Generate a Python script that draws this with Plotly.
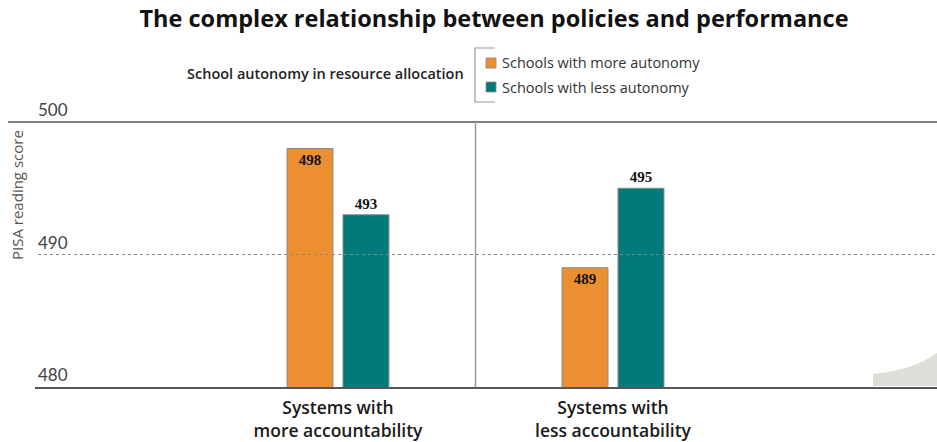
import plotly.graph_objects as go

categories = ["Systems with<br>more accountability", "Systems with<br>less accountability"]
series_names = ["Schools with more autonomy", "Schools with less autonomy"]
more_autonomy = [498, 489]
less_autonomy = [493, 495]
y_ticks = [480, 490, 500]
legend_title = "School autonomy in resource allocation"
title = "The complex relationship between policies and performance"
y_title = "PISA reading score"

ORANGE = "#EC8F30"
TEAL = "#007A7A"
W, H = 937, 442
ML, MR, MT, MB = 35, 0, 106, 55
PW, PH = W - ML - MR, H - MT - MB
PX_PER_UNIT = 13.25
Y_TOP = y_ticks[0] + PH / PX_PER_UNIT

def px_x(p):
    return (p - ML) / PW

def px_y(p):
    return (H - MB - p) / PH

def val_y(v):
    return (v - y_ticks[0]) / (Y_TOP - y_ticks[0])

bar_font = dict(family="Liberation Serif", size=15, color="#111111", weight="bold")

fig = go.Figure()
fig.add_trace(go.Bar(
    x=categories, y=more_autonomy, name=series_names[0],
    marker=dict(color=ORANGE, line=dict(color="#8a8a8a", width=1)),
    text=[str(v) for v in more_autonomy], textposition="inside", insidetextanchor="end",
    textfont=bar_font, constraintext="none", showlegend=False, hoverinfo="x+y",
))
fig.add_trace(go.Bar(
    x=categories, y=less_autonomy, name=series_names[1],
    marker=dict(color=TEAL, line=dict(color="#8a8a8a", width=1)),
    text=[str(v) for v in less_autonomy], textposition="outside",
    textfont=bar_font, constraintext="none", cliponaxis=False, showlegend=False, hoverinfo="x+y",
))

shapes = [
    # top reference line at 500
    dict(type="line", xref="paper", yref="paper", x0=px_x(8), x1=1,
         y0=val_y(y_ticks[2]), y1=val_y(y_ticks[2]),
         line=dict(color="#555555", width=1.6)),
    # dashed line at 490
    dict(type="line", xref="paper", yref="y", x0=px_x(38), x1=1, y0=y_ticks[1], y1=y_ticks[1],
         line=dict(color="#888888", width=1, dash="3px,3px")),
    # separator between groups
    dict(type="line", xref="x", yref="y", x0=0.5, x1=0.5, y0=y_ticks[0], y1=y_ticks[2],
         line=dict(color="#9a9a9a", width=1.5)),
    # legend bracket
    dict(type="path", xref="paper", yref="paper",
         path=f"M {px_x(495)} {px_y(48)} L {px_x(475)} {px_y(48)} L {px_x(475)} {px_y(102)} L {px_x(495)} {px_y(102)}",
         line=dict(color="#9a9a9a", width=1.2)),
    # legend swatches
    dict(type="rect", xref="paper", yref="paper", x0=px_x(486), x1=px_x(496), y0=px_y(68), y1=px_y(58),
         fillcolor=ORANGE, line=dict(color="#8a8a8a", width=0.8)),
    dict(type="rect", xref="paper", yref="paper", x0=px_x(486), x1=px_x(496), y0=px_y(92), y1=px_y(82),
         fillcolor=TEAL, line=dict(color="#8a8a8a", width=0.8)),
    # page curl decoration
    dict(type="path", xref="paper", yref="paper", layer="below",
         path=f"M {px_x(873)} {px_y(386)} L {px_x(873)} {px_y(374)} Q {px_x(915)} {px_y(370)} {px_x(938)} {px_y(352)} L {px_x(938)} {px_y(386)} Z",
         fillcolor="#DEDED8", line=dict(width=0)),
]

annotations = [
    dict(text=legend_title, xref="paper", yref="paper", x=px_x(466), y=px_y(74),
         xanchor="right", yanchor="middle", showarrow=False,
         font=dict(family="Open Sans", size=14.5, color="#222222", weight=600)),
    dict(text=series_names[0], xref="paper", yref="paper", x=px_x(500), y=px_y(63),
         xanchor="left", yanchor="middle", showarrow=False,
         font=dict(family="Open Sans", size=14.5, color="#333333")),
    dict(text=series_names[1], xref="paper", yref="paper", x=px_x(500), y=px_y(87),
         xanchor="left", yanchor="middle", showarrow=False,
         font=dict(family="Open Sans", size=14.5, color="#333333")),
    dict(text=y_title, xref="paper", yref="paper", x=px_x(17), y=px_y(195),
         xanchor="center", yanchor="middle", textangle=-90, showarrow=False,
         font=dict(family="Open Sans", size=15, color="#555555")),
]

fig.update_layout(
    width=W, height=H,
    margin=dict(l=ML, r=MR, t=MT, b=MB, autoexpand=False),
    paper_bgcolor="white", plot_bgcolor="white",
    title=dict(text=title, x=494 / W, xanchor="center", y=1 - 19 / H, yanchor="middle",
               font=dict(family="Open Sans", size=23.5, color="#111111", weight="bold")),
    barmode="group", bargap=0.593, bargroupgap=0.179,
    shapes=shapes, annotations=annotations,
    xaxis=dict(type="category", range=[-(338 - ML) / 275, -(338 - ML) / 275 + PW / 275],
               showgrid=False, showline=True, linecolor="#555555", linewidth=2, ticks="",
               automargin=False, ticklabelstandoff=4,
               tickfont=dict(family="Open Sans", size=17.5, color="#1a1a1a", weight=600), fixedrange=True),
    yaxis=dict(range=[y_ticks[0], Y_TOP], tickvals=y_ticks, ticktext=[str(v) for v in y_ticks],
               ticklabelposition="inside top", ticklabeloverflow="allow", automargin=False,
               showgrid=False, zeroline=False, showline=False,
               tickfont=dict(family="Lato", size=17, color="#444444"), fixedrange=True),
    showlegend=False,
)

fig.write_html("out.html")
